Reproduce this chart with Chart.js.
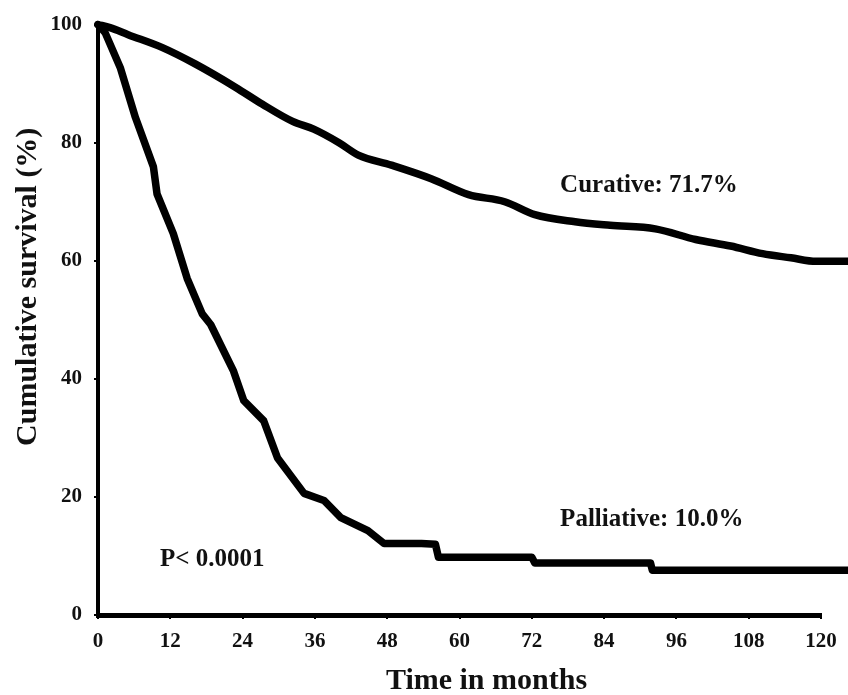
<!DOCTYPE html>
<html>
<head>
<meta charset="utf-8">
<title>Cumulative survival</title>
<script src="https://cdn.jsdelivr.net/npm/chart.js@4/dist/chart.umd.min.js"></script>
<style>
  html, body { margin: 0; padding: 0; background: #fff; }
  #wrap { width: 848px; height: 695px; position: relative; }
</style>
</head>
<body>
<div id="wrap"><canvas id="survivalChart"></canvas></div>
<script>
// Kaplan-Meier estimates, months vs cumulative survival (%)
const curativeMonths   = [0, 2, 5, 10.7, 16.2, 22.8, 27.3, 32.3, 35.8, 40, 43.2, 48.7, 55.3, 61.5, 67.5, 72.5, 79.2, 85, 92.5, 99.2, 105, 110.3, 115, 119.2, 125];
const curativeSurvival = [100, 99.5, 98.3, 96.1, 93.3, 89.4, 86.5, 83.6, 82.3, 80, 77.9, 76.2, 73.9, 71.2, 70, 67.8, 66.6, 66, 65.4, 63.6, 62.5, 61.2, 60.5, 59.9, 59.9];

const palliativeMonths   = [0, 1.2, 3.7, 6.2, 9.2, 9.8, 12.5, 14.8, 17.3, 18.7, 22.5, 24.2, 27.5, 29.8, 34.2, 37.5, 40.3, 44.8, 47.5, 53.7, 56, 56.5, 72, 72.5, 91.7, 92, 125];
const palliativeSurvival = [100, 98.6, 92.7, 84.3, 75.9, 71.3, 64.6, 57, 51, 49.2, 41.3, 36.3, 32.9, 26.6, 20.6, 19.4, 16.5, 14.3, 12.1, 12.1, 12.0, 9.8, 9.8, 8.8, 8.8, 7.6, 7.6];

const monthTicks    = [0, 12, 24, 36, 48, 60, 72, 84, 96, 108, 120];
const survivalTicks = [0, 20, 40, 60, 80, 100];

const FONT = '"Liberation Serif", "Times New Roman", serif';
const INK = '#111';

const toPoints = (xs, ys) => xs.map((x, i) => ({ x: x, y: ys[i] }));

// free text: group labels, p-value and the two axis titles
const textLayer = {
  id: 'textLayer',
  afterDraw(chart) {
    const { ctx, chartArea, scales: { x, y } } = chart;
    ctx.save();
    ctx.fillStyle = INK;
    ctx.textBaseline = 'middle';
    ctx.textAlign = 'left';
    ctx.font = 'bold 25px ' + FONT;
    ctx.fillText('Curative: 71.7%', x.getPixelForValue(76.7), y.getPixelForValue(72.8));
    ctx.fillText('Palliative: 10.0%', x.getPixelForValue(76.7), y.getPixelForValue(16.2));
    ctx.fillText('P< 0.0001', x.getPixelForValue(10.3), y.getPixelForValue(9.4));

    ctx.textAlign = 'center';
    ctx.font = 'bold 30px ' + FONT;
    ctx.fillText('Time in months', (chartArea.left + chartArea.right) / 2 + 27, chartArea.bottom + 66);

    ctx.translate(28, (chartArea.top + chartArea.bottom) / 2 - 33);
    ctx.rotate(-Math.PI / 2);
    ctx.fillText('Cumulative survival (%)', 0, 0);
    ctx.restore();
  }
};

const line = (data, smooth) => ({
  data: data,
  borderColor: '#000',
  borderWidth: 7.5,
  pointRadius: 0,
  tension: 0,
  cubicInterpolationMode: smooth ? 'monotone' : 'default',
  borderJoinStyle: 'round',
  borderCapStyle: 'round',
  clip: false
});

new Chart(document.getElementById('survivalChart'), {
  type: 'line',
  data: {
    datasets: [
      line(toPoints(curativeMonths, curativeSurvival), true),
      line(toPoints(palliativeMonths, palliativeSurvival), false)
    ]
  },
  options: {
    responsive: true,
    maintainAspectRatio: false,
    animation: false,
    events: [],
    layout: { padding: { top: 22, right: 27, left: 0, bottom: 0 } },
    plugins: { legend: { display: false }, tooltip: { enabled: false } },
    scales: {
      x: {
        type: 'linear',
        min: 0, max: 120,
        afterBuildTicks: s => { s.ticks = monthTicks.map(v => ({ value: v })); },
        afterFit: s => { s.height = 80; },
        border: { color: '#000', width: 5 },
        grid: { drawOnChartArea: false, color: '#000', lineWidth: 2, tickLength: 4 },
        ticks: { color: INK, padding: 10, maxRotation: 0, font: { family: FONT, size: 21, weight: 'bold' } }
      },
      y: {
        min: 0, max: 100,
        afterBuildTicks: s => { s.ticks = survivalTicks.map(v => ({ value: v })); },
        afterFit: s => { s.width = 98; },
        border: { color: '#000', width: 4 },
        grid: { drawOnChartArea: false, color: '#000', lineWidth: 2, tickLength: 4 },
        ticks: { color: INK, padding: 12, font: { family: FONT, size: 21, weight: 'bold' } }
      }
    }
  },
  plugins: [textLayer]
});
</script>
</body>
</html>
